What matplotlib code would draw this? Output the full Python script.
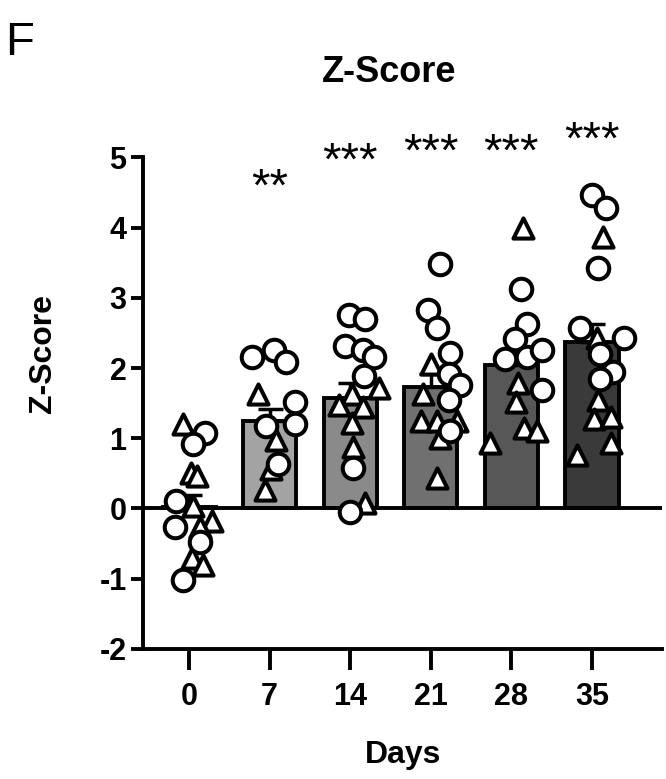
import numpy as np
import matplotlib.pyplot as plt

plt.rcParams['font.family'] = ['Liberation Sans', 'DejaVu Sans']
plt.rcParams['axes.unicode_minus'] = False

days = ['0', '7', '14', '21', '28', '35']
bar_means = [0.02, 1.25, 1.58, 1.73, 2.05, 2.37]
bar_sems = [0.17, 0.17, 0.20, 0.18, 0.20, 0.26]
bar_colors = ['#ffffff', '#a3a3a3', '#8a8a8a', '#707070', '#575757', '#3a3a3a']
stars = ['', '**', '***', '***', '***', '***']
star_y = [0, 4.55, 4.92, 5.05, 5.05, 5.22]

# individual animals: (x offset within group, value)
circles = [
    [(0.20, 1.07), (0.05, 0.92), (-0.16, 0.10), (-0.18, -0.26), (0.14, -0.48), (-0.07, -1.02)],
    [(-0.22, 2.15), (0.05, 2.25), (0.20, 2.08), (0.32, 1.52), (0.32, 1.20), (-0.05, 1.17), (0.10, 0.63)],
    [(-0.02, 2.75), (0.18, 2.70), (-0.06, 2.32), (0.16, 2.25), (0.30, 2.15), (0.17, 1.88), (0.04, 0.57), (0.00, -0.05)],
    [(0.12, 3.48), (-0.04, 2.82), (0.08, 2.57), (0.24, 2.22), (0.22, 1.92), (0.36, 1.76), (0.22, 1.54), (0.24, 1.10)],
    [(0.12, 3.12), (0.20, 2.62), (0.04, 2.42), (-0.08, 2.13), (0.20, 2.15), (0.38, 2.25), (0.38, 1.68)],
    [(0.00, 4.47), (0.17, 4.28), (0.08, 3.42), (-0.15, 2.57), (0.40, 2.43), (0.10, 2.20), (0.26, 1.95), (0.10, 1.85)],
]
triangles = [
    [(-0.08, 1.20), (0.02, 0.50), (0.10, 0.46), (0.05, 0.04), (0.28, -0.18), (0.14, -0.27), (0.04, -0.70), (0.17, -0.80)],
    [(-0.14, 1.63), (0.08, 0.97), (0.02, 0.56), (-0.06, 0.26)],
    [(0.36, 1.71), (0.02, 1.63), (-0.14, 1.47), (0.16, 1.44), (0.02, 1.22), (0.03, 0.87), (0.18, 0.08)],
    [(0.00, 2.06), (-0.10, 1.63), (-0.12, 1.25), (0.08, 1.25), (0.32, 1.25), (0.12, 1.00), (0.08, 0.43)],
    [(0.14, 4.00), (0.08, 1.79), (0.06, 1.51), (0.16, 1.15), (0.32, 1.11), (-0.27, 0.93)],
    [(0.14, 3.87), (0.06, 2.43), (0.08, 1.54), (0.02, 1.28), (0.24, 1.30), (0.24, 0.93), (-0.18, 0.76)],
]

fig = plt.figure(figsize=(6.66, 7.79), dpi=100)
ax = fig.add_axes([0.215, 0.167, 0.779, 0.631])

x = np.arange(len(days))
ax.bar(x, bar_means, width=0.66, color=bar_colors, edgecolor='black',
       linewidth=2.8, zorder=2)
ax.errorbar(x, bar_means, yerr=[np.zeros(len(x)), bar_sems], fmt='none',
            ecolor='black', elinewidth=2.5, capsize=9, capthick=2.5, zorder=3)

for i in range(len(days)):
    cx = [i + d for d, v in circles[i]]
    cy = [v for d, v in circles[i]]
    tx = [i + d for d, v in triangles[i]]
    ty = [v for d, v in triangles[i]]
    ax.scatter(tx, ty, marker='^', s=210, facecolor='white', edgecolor='black',
               linewidth=2.9, zorder=4, clip_on=False)
    ax.scatter(cx, cy, marker='o', s=240, facecolor='white', edgecolor='black',
               linewidth=2.9, zorder=5, clip_on=False)
    if stars[i]:
        ax.text(i, star_y[i], stars[i], ha='center', va='center',
                fontsize=34, clip_on=False)

ax.axhline(0, color='black', linewidth=2.8, zorder=3)

ax.set_xlim(-0.57, 5.87)
ax.set_ylim(-2, 5)
ax.set_yticks(range(-2, 6))
ax.set_xticks(x)
ax.set_xticklabels(days)
ax.spines['top'].set_visible(False)
ax.spines['right'].set_visible(False)
ax.spines['left'].set_linewidth(2.8)
ax.spines['bottom'].set_linewidth(2.8)
ax.tick_params(axis='y', length=9, width=2.8, labelsize=22, pad=3)
ax.tick_params(axis='x', length=15, width=2.8, labelsize=22, pad=9)
for lab in ax.get_xticklabels() + ax.get_yticklabels():
    lab.set_fontweight('bold')

ax.set_ylabel('Z-Score', fontsize=23, fontweight='bold')
ax.yaxis.set_label_coords(-0.165, 0.60)
ax.set_xlabel('Days', fontsize=23, fontweight='bold', labelpad=20)
fig.text(0.585, 0.907, 'Z-Score', ha='center', va='center', fontsize=26,
         fontweight='bold')
fig.text(0.029, 0.945, 'F', ha='center', va='center', fontsize=34,
         family=['Liberation Sans Narrow', 'Liberation Sans'])

fig.savefig('out.png', dpi=100)
